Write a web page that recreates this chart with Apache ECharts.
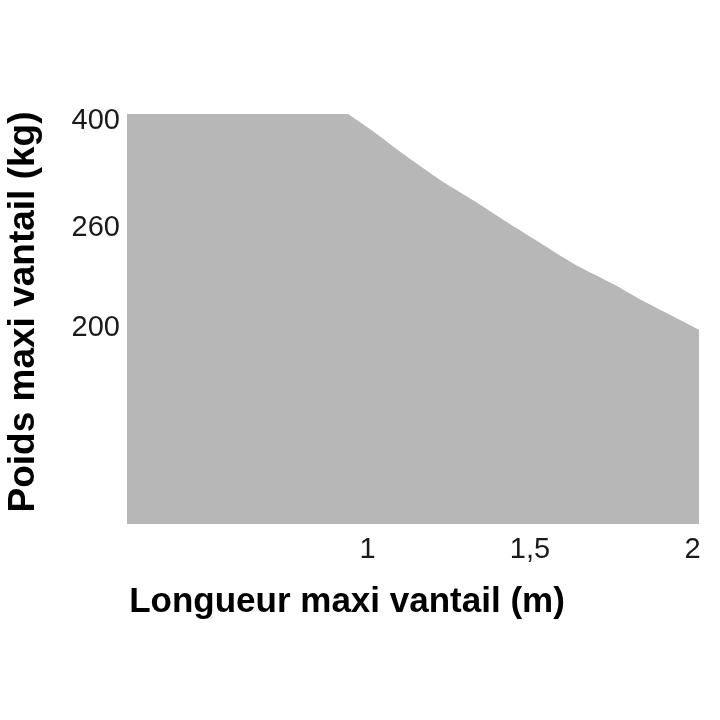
<!DOCTYPE html>
<html>
<head>
<meta charset="utf-8">
<style>
  html, body { margin: 0; padding: 0; background: #ffffff; }
  #chart { width: 720px; height: 720px; }
</style>
<script src="https://cdn.jsdelivr.net/npm/echarts@6/dist/echarts.min.js"></script>
</head>
<body>
<div id="chart"></div>
<script>
// ---- data ----
const flatLengths = [0.26, 0.942];  // m, the flat 400 kg part
const flatWeights = [400, 400];     // kg
const curveLengths = [0.94, 1.02, 1.12, 1.22, 1.33, 1.43, 1.54, 1.64, 1.75, 1.85, 1.95, 2.02];   // m
const curveWeights = [400, 378, 348, 320, 293, 267, 250, 238, 227, 216, 206, 199];               // kg
const xTickValues = [1, 1.5, 2];
const xTickLabels = ['1', '1,5', '2'];
const yTickValues = [200, 260, 400];
const yTickLabels = ['200', '260', '400'];
const xTitle = 'Longueur maxi vantail (m)';
const yTitle = 'Poids maxi vantail (kg)';

// ---- schematic (non-linear) vertical scale of the original drawing ----
const scaleKg = [200, 260, 400];
const scaleUnits = [196, 296, 410];
function kgToUnits(v) {
  if (v <= scaleKg[0]) {
    const s = (scaleUnits[1] - scaleUnits[0]) / (scaleKg[1] - scaleKg[0]);
    return scaleUnits[0] + (v - scaleKg[0]) * s;
  }
  for (let i = 0; i < scaleKg.length - 1; i++) {
    if (v <= scaleKg[i + 1]) {
      const t = (v - scaleKg[i]) / (scaleKg[i + 1] - scaleKg[i]);
      return scaleUnits[i] + t * (scaleUnits[i + 1] - scaleUnits[i]);
    }
  }
  return scaleUnits[scaleUnits.length - 1];
}

const curveData = curveLengths.map((x, i) => [x, kgToUnits(curveWeights[i])]);
const flatData = flatLengths.map((x, i) => [x, kgToUnits(flatWeights[i])]);
const yLabelPos = yTickValues.map(kgToUnits);

const FONT = '"Liberation Sans", Arial, Helvetica, sans-serif';
const FILL = '#b7b7b7';

const chart = echarts.init(document.getElementById('chart'), null, { renderer: 'canvas' });
chart.setOption({
  animation: false,
  backgroundColor: '#ffffff',
  grid: { left: 127, right: 21, top: 114, bottom: 196, containLabel: false },
  xAxis: {
    type: 'value',
    min: 0.26,
    max: 2.02,
    axisLine: { show: false },
    axisTick: { show: false },
    splitLine: { show: false },
    axisLabel: {
      customValues: xTickValues,
      formatter: (v) => {
        const i = xTickValues.findIndex(t => Math.abs(t - v) < 1e-6);
        return i >= 0 ? xTickLabels[i] : '';
      },
      color: '#1a1a1a',
      fontFamily: FONT,
      fontSize: 29,
      margin: 11,
      showMinLabel: true,
      showMaxLabel: true
    }
  },
  yAxis: {
    type: 'value',
    min: 0,
    max: 410,
    axisLine: { show: false },
    axisTick: { show: false },
    splitLine: { show: false },
    axisLabel: {
      customValues: yLabelPos,
      formatter: (v) => {
        const i = yLabelPos.findIndex(t => Math.abs(t - v) < 1e-6);
        if (i < 0) return '';
        return i === yLabelPos.length - 1 ? '{top|' + yTickLabels[i] + '}' : yTickLabels[i];
      },
      rich: { top: { padding: [14, 0, 0, 0], fontSize: 29, fontFamily: FONT, color: '#1a1a1a' } },
      color: '#1a1a1a',
      fontFamily: FONT,
      fontSize: 29,
      margin: 7,
      showMinLabel: true,
      showMaxLabel: true
    }
  },
  series: [
    {
      type: 'line',
      data: flatData,
      showSymbol: false,
      smooth: false,
      lineStyle: { width: 0, color: FILL },
      areaStyle: { color: FILL, opacity: 1, origin: 'start' },
      silent: true
    },
    {
      type: 'line',
      data: curveData,
      showSymbol: false,
      smooth: 0.3,
      lineStyle: { width: 0, color: FILL },
      areaStyle: { color: FILL, opacity: 1, origin: 'start' },
      silent: true
    }
  ],
  graphic: [
    {
      type: 'text',
      x: 347, y: 602,
      style: {
        text: xTitle,
        font: 'bold 35px ' + FONT,
        fill: '#000000',
        align: 'center',
        verticalAlign: 'middle'
      }
    },
    {
      type: 'text',
      x: 24, y: 312,
      rotation: Math.PI / 2,
      style: {
        text: yTitle,
        font: 'bold 37px ' + FONT,
        fill: '#000000',
        align: 'center',
        verticalAlign: 'middle'
      }
    }
  ]
});
</script>
</body>
</html>
